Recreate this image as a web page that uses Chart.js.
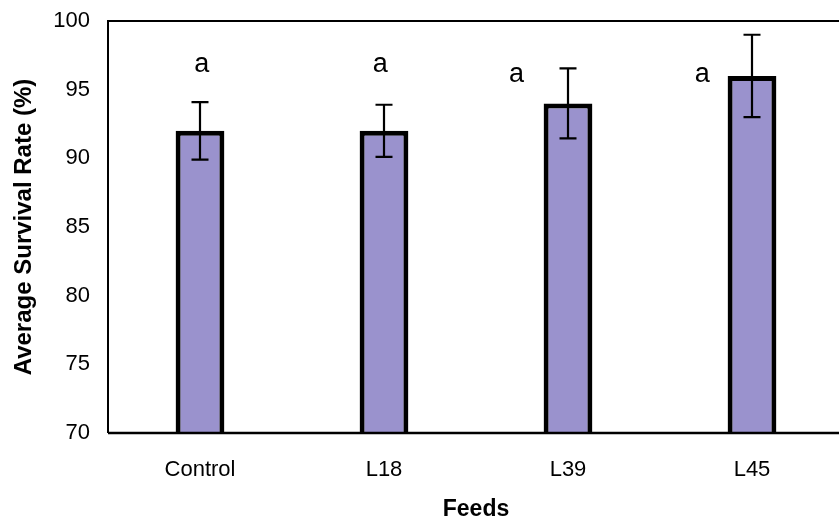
<!DOCTYPE html>
<html>
<head>
<meta charset="utf-8">
<script src="https://cdn.jsdelivr.net/npm/chart.js@4.4.1/dist/chart.umd.min.js"></script>
<style>
  html, body { margin: 0; padding: 0; background: #fff; overflow: hidden; }
  #wrap { width: 846px; height: 526px; }
</style>
</head>
<body>
<div id="wrap"><canvas id="grafico"></canvas></div>
<script>
// --- datos ---
const piensos = ['Control', 'L18', 'L39', 'L45'];
const supervivencia = [92, 92, 94, 96];
const errorEstandar = [2.1, 1.9, 2.55, 3];
const letras = ['a', 'a', 'a', 'a'];
// posicion de cada letra en unidades de los ejes (indice de categoria, % supervivencia)
const letraX = [0.01, 0.98, 1.72, 2.73];
const letraY = [96.8, 96.8, 96.1, 96.1];
const ticksY = [70, 75, 80, 85, 90, 95, 100];

const FUENTE = "'Liberation Sans', Arial, sans-serif";

// marco completo del area de trazado
const marco = {
    id: 'marco',
    afterDatasetsDraw(chart) {
        const { ctx, chartArea: a } = chart;
        ctx.save();
        ctx.strokeStyle = '#000';
        ctx.lineWidth = 2;
        ctx.beginPath();
        ctx.moveTo(a.left, a.bottom);
        ctx.lineTo(a.left, a.top);
        ctx.lineTo(a.right, a.top);
        ctx.stroke();
        ctx.lineWidth = 2.5;
        ctx.beginPath();
        ctx.moveTo(a.left, a.bottom);
        ctx.lineTo(a.right, a.bottom);
        ctx.stroke();
        ctx.strokeStyle = '#ddd';
        ctx.lineWidth = 1;
        ctx.beginPath();
        ctx.moveTo(a.right - 0.5, a.top);
        ctx.lineTo(a.right - 0.5, a.bottom);
        ctx.stroke();
        ctx.restore();
    }
};

// barras de error y letras de significancia
const barrasError = {
    id: 'barrasError',
    afterDatasetsDraw(chart) {
        const { ctx } = chart;
        const x = chart.scales.x, y = chart.scales.y;
        ctx.save();
        ctx.strokeStyle = '#000';
        ctx.lineWidth = 2.2;
        supervivencia.forEach((v, i) => {
            const cx = x.getPixelForValue(i);
            const yTop = y.getPixelForValue(v + errorEstandar[i]);
            const yBot = y.getPixelForValue(v - errorEstandar[i]);
            ctx.beginPath();
            ctx.moveTo(cx, yTop);
            ctx.lineTo(cx, yBot);
            ctx.moveTo(cx - 8.5, yTop);
            ctx.lineTo(cx + 8.5, yTop);
            ctx.moveTo(cx - 8.5, yBot);
            ctx.lineTo(cx + 8.5, yBot);
            ctx.stroke();
        });
        ctx.fillStyle = '#000';
        ctx.font = '27px ' + FUENTE;
        ctx.textAlign = 'center';
        ctx.textBaseline = 'middle';
        letras.forEach((t, i) => {
            ctx.fillText(t, x.getPixelForValue(letraX[i]), y.getPixelForValue(letraY[i]));
        });
        ctx.restore();
    }
};

new Chart(document.getElementById('grafico'), {
    type: 'bar',
    data: {
        labels: piensos,
        datasets: [{
            data: supervivencia,
            backgroundColor: '#9a92cd',
            borderColor: '#000',
            borderWidth: 5,
            borderSkipped: false,
            barPercentage: 0.265,
            categoryPercentage: 1
        }]
    },
    options: {
        responsive: true,
        maintainAspectRatio: false,
        animation: false,
        layout: { padding: { top: 21, right: 2, left: 0, bottom: 0 } },
        plugins: { legend: { display: false }, tooltip: { enabled: false } },
        scales: {
            x: {
                grid: { display: false, drawTicks: false },
                border: { display: false },
                ticks: { color: '#000', font: { family: FUENTE, size: 22 }, padding: 24 },
                title: {
                    display: true, text: 'Feeds', color: '#000',
                    font: { family: FUENTE, size: 23, weight: 'bold' },
                    padding: { top: 0, bottom: 3 }
                },
                afterFit(s) { s.height = 93; s.paddingLeft = 0; s.paddingRight = 0; }
            },
            y: {
                min: 70, max: 100,
                grid: { display: false, drawTicks: false },
                border: { display: false },
                afterBuildTicks(s) { s.ticks = ticksY.map(v => ({ value: v })); },
                ticks: { color: '#000', font: { family: FUENTE, size: 22 }, padding: 18 },
                title: {
                    display: true, text: 'Average Survival Rate (%)', color: '#000',
                    font: { family: FUENTE, size: 24, weight: 'bold' },
                    padding: { top: 10, bottom: 0 }
                },
                afterFit(s) { s.width = 108; s.paddingTop = 0; s.paddingBottom = 0; }
            }
        }
    },
    plugins: [marco, barrasError]
});
</script>
</body>
</html>
